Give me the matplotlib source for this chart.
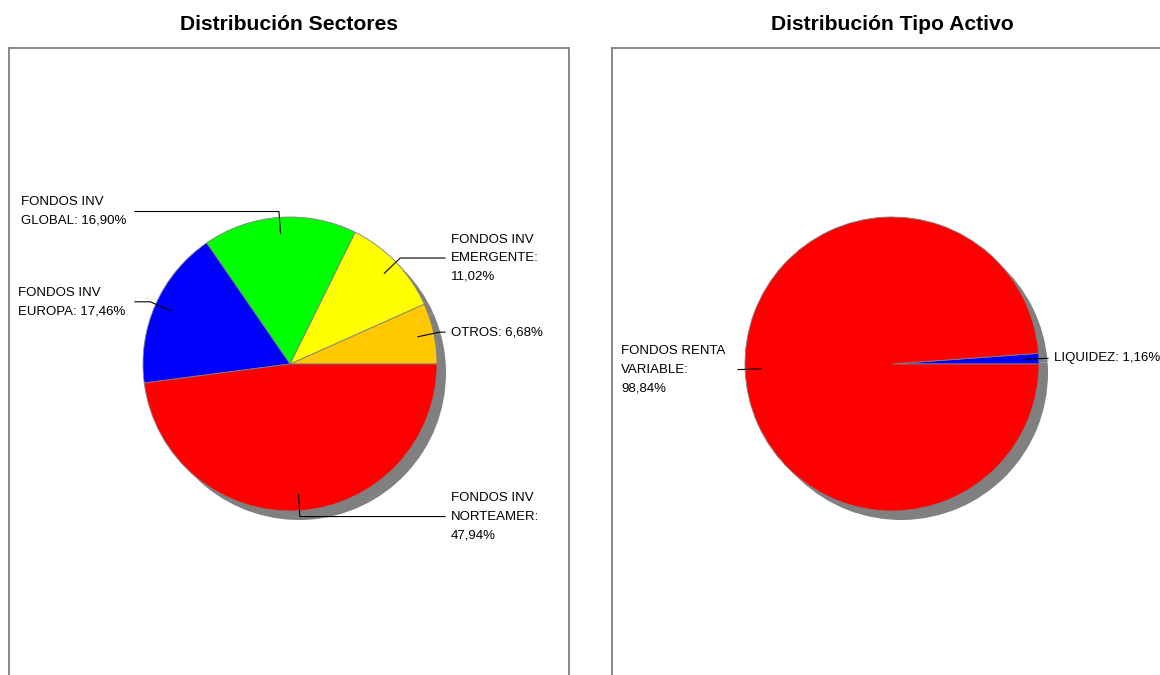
import textwrap
import numpy as np
import matplotlib
matplotlib.use('Agg')
import matplotlib.pyplot as plt

####### Datos #######
sectores = ['OTROS', 'FONDOS INV EMERGENTE', 'FONDOS INV GLOBAL',
            'FONDOS INV EUROPA', 'FONDOS INV NORTEAMER']
sectores_pct = [6.68, 11.02, 16.90, 17.46, 47.94]
sectores_colores = ['#FFC800', '#FFFF00', '#00FF00', '#0000FF', '#FF0000']

tipos = ['LIQUIDEZ', 'FONDOS RENTA VARIABLE']
tipos_pct = [1.16, 98.84]
tipos_colores = ['#0000FF', '#FF0000']

TITULO1 = 'Distribución Sectores'
TITULO2 = 'Distribución Tipo Activo'

####### Layout (pixeles) #######
W, H = 1160, 675
DPI = 100
PANEL_W = 560
PANEL_TOP = 48
PANEL_BOTTOM = 700
RADIO = 147
SOMBRA = 9
GRIS = '#808080'

plt.rcParams['font.family'] = ['Liberation Sans', 'DejaVu Sans']

fig = plt.figure(figsize=(W / DPI, H / DPI), dpi=DPI)


def formato(nombre, pct):
    return '\n'.join(textwrap.wrap(nombre + ': ' + ('%.2f' % pct).replace('.', ',') + '%', 15))


# texto_x, linea_x por cada porcion (en pixeles de figura)
def panel(left, cx, cy, titulo, nombres, pct, colores, etiquetas):
    ax = fig.add_axes([left / W, 1 - PANEL_BOTTOM / H, PANEL_W / W, (PANEL_BOTTOM - PANEL_TOP) / H])
    cyd = H - cy
    ax.pie(pct, colors=[GRIS] * len(pct), center=(cx + SOMBRA, cyd - SOMBRA), radius=RADIO,
           startangle=0, counterclock=True, frame=True, wedgeprops=dict(linewidth=0))
    ax.pie(pct, colors=colores, center=(cx, cyd), radius=RADIO, startangle=0, counterclock=True,
           frame=True, wedgeprops=dict(edgecolor=GRIS, linewidth=0.6))
    ax.set_xlim(left, left + PANEL_W)
    ax.set_ylim(H - PANEL_BOTTOM, H - PANEL_TOP)
    ax.set_xticks([])
    ax.set_yticks([])
    for s in ['left', 'top', 'right']:
        ax.spines[s].set_color(GRIS)
        ax.spines[s].set_linewidth(1.3)
    ax.spines['bottom'].set_visible(False)

    acum = np.cumsum(pct) - np.array(pct) / 2.0
    for i, nombre in enumerate(nombres):
        ang = np.deg2rad(acum[i] / 100.0 * 360.0)
        ix, iy = cx + 0.89 * RADIO * np.cos(ang), cyd + 0.89 * RADIO * np.sin(ang)
        ex, ey = cx + 1.04 * RADIO * np.cos(ang), cyd + 1.04 * RADIO * np.sin(ang)
        tx, lx = etiquetas[i]
        ax.plot([ix, ex, lx], [iy, ey, ey], color='black', linewidth=0.8, clip_on=False)
        ax.text(tx, ey, formato(nombre, pct[i]), ha='left', va='center', fontsize=9.5,
                linespacing=1.72, color='black')

    fig.text((left + PANEL_W / 2) / W, 1 - 24 / H, titulo, ha='center', va='center',
             fontsize=15.2, fontweight='bold')


panel(9, 290, 364, TITULO1, sectores, sectores_pct, sectores_colores,
      [(451, 445), (451, 445), (21, 135), (18, 135), (451, 445)])
panel(612, 892, 364, TITULO2, tipos, tipos_pct, tipos_colores,
      [(1054, 1048), (621, 738)])

fig.savefig('out.png', dpi=DPI)
